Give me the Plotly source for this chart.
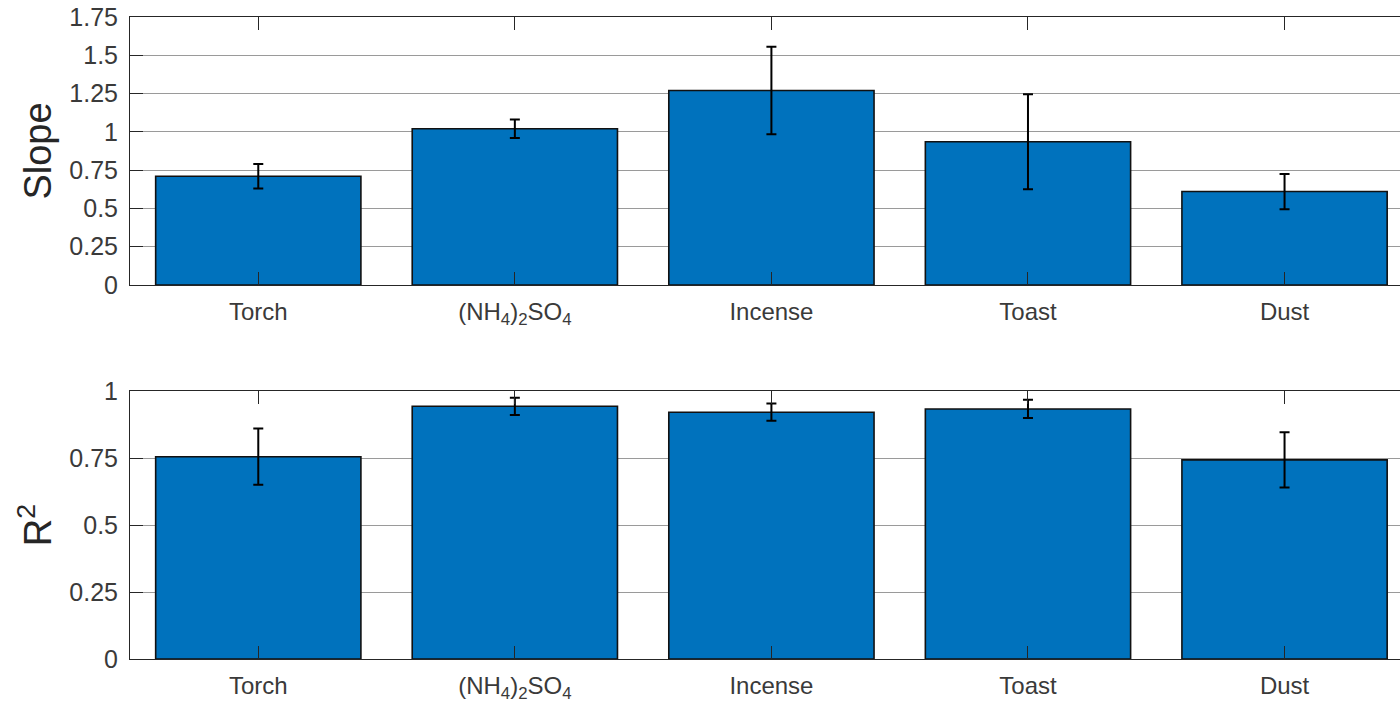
import plotly.graph_objects as go
from plotly.subplots import make_subplots

categories = ["Torch", "(NH4)2SO4", "Incense", "Toast", "Dust"]
category_labels = ["Torch", "(NH<sub>4</sub>)<sub>2</sub>SO<sub>4</sub>", "Incense", "Toast", "Dust"]

slope_values = [0.71, 1.02, 1.27, 0.935, 0.61]
slope_errors = [0.08, 0.06, 0.285, 0.31, 0.115]

r2_values = [0.755, 0.943, 0.921, 0.933, 0.743]
r2_errors = [0.105, 0.032, 0.032, 0.034, 0.103]

slope_ticks = [0, 0.25, 0.5, 0.75, 1, 1.25, 1.5, 1.75]
slope_ticktext = ["0", "0.25", "0.5", "0.75", "1", "1.25", "1.5", "1.75"]
r2_ticks = [0, 0.25, 0.5, 0.75, 1]
r2_ticktext = ["0", "0.25", "0.5", "0.75", "1"]

BAR = "#0072BD"
TXT = "#262626"
GRID = "#9a9a9a"
FONT = "Liberation Sans, Arial, Helvetica, sans-serif"

fig = make_subplots(rows=2, cols=1, vertical_spacing=0.0)

for row, vals, errs in [(1, slope_values, slope_errors), (2, r2_values, r2_errors)]:
    fig.add_trace(go.Bar(
        x=categories, y=vals,
        marker=dict(color=BAR, line=dict(color="#111111", width=1.6)),
        error_y=dict(type="data", array=errs, visible=True, color="#000000",
                     thickness=2, width=5),
        showlegend=False,
    ), row=row, col=1)

xcommon = dict(
    type="category", range=[-0.5, 4.45], tickmode="array",
    tickvals=categories, ticktext=category_labels,
    showline=True, linecolor=TXT, linewidth=1, mirror="ticks",
    ticks="inside", ticklen=13, tickwidth=1, tickcolor=TXT,
    showgrid=False, zeroline=False, automargin=False,
    tickfont=dict(family=FONT, size=24, color="#3a3a3a"),
    ticklabelstandoff=5,
)
fig.update_xaxes(**xcommon)

fig.update_yaxes(
    showline=True, linecolor=TXT, linewidth=1, mirror=False,
    ticks="inside", ticklen=13, tickwidth=1, tickcolor=TXT,
    showgrid=True, gridcolor=GRID, gridwidth=1, zeroline=False,
    automargin=False, ticklabeloverflow="allow",
    tickfont=dict(family=FONT, size=25, color="#3a3a3a"),
    ticklabelstandoff=6,
)

fig.update_yaxes(range=[0, 1.75], tickvals=slope_ticks, ticktext=slope_ticktext,
                 domain=[0.5826, 1.0],
                 title=dict(text="Slope", font=dict(family=FONT, size=38, color=TXT), standoff=6),
                 row=1, col=1)
fig.update_yaxes(range=[0, 1], tickvals=r2_ticks, ticktext=r2_ticktext,
                 domain=[0.0, 0.4174],
                 title=dict(text="R<sup>2</sup>", font=dict(family=FONT, size=38, color=TXT), standoff=6),
                 row=2, col=1)

fig.update_layout(
    width=1400, height=707,
    margin=dict(l=130, r=0, t=17, b=48),
    paper_bgcolor="white", plot_bgcolor="white",
    bargap=0.2,
    font=dict(family=FONT, color=TXT),
)

fig.write_html("out.html",
               config={"displayModeBar": False},
               post_script="document.body.style.margin='0';document.body.style.overflow='hidden';")
